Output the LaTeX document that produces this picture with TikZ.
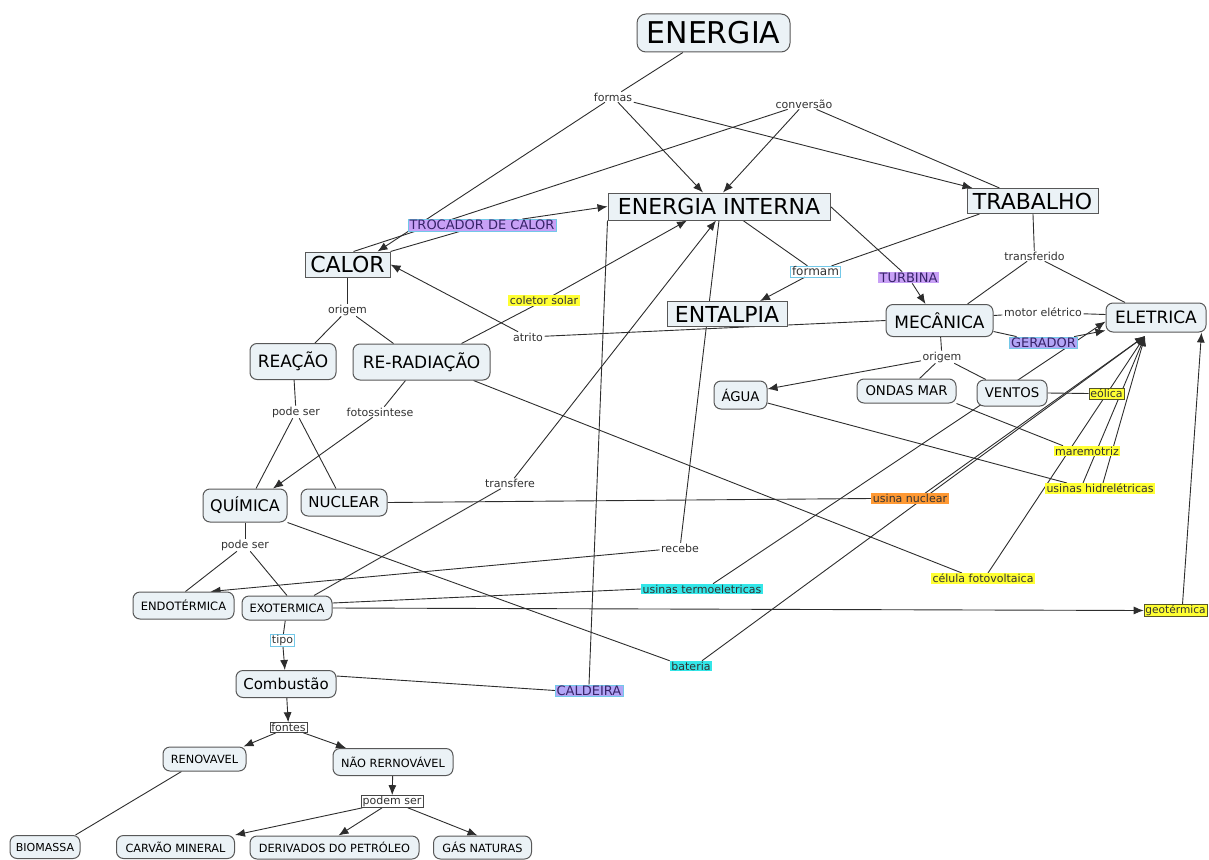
\documentclass[tikz,border=0pt]{standalone}
\usepackage{fontspec}
\setmainfont{DejaVu Sans}
\usetikzlibrary{arrows.meta,backgrounds}

\newcommand{\fsz}[1]{\fontsize{#1}{#1}\selectfont}

\definecolor{conceptfill}{RGB}{235,242,246}
\definecolor{conceptline}{RGB}{88,88,88}
\definecolor{edgegray}{RGB}{45,45,45}
\definecolor{linktext}{RGB}{50,50,50}
\definecolor{capstext}{RGB}{55,35,105}
\definecolor{hlyellow}{RGB}{255,255,51}
\definecolor{hlorange}{RGB}{255,153,51}
\definecolor{hlcyan}{RGB}{51,230,232}
\definecolor{hlpurple}{RGB}{200,160,246}
\definecolor{hlviolet}{RGB}{178,165,246}
\definecolor{blueline}{RGB}{115,200,232}
\definecolor{oliveline}{RGB}{85,85,40}
\definecolor{darkline}{RGB}{70,70,70}

\tikzstyle{concept} = [draw=conceptline, fill=conceptfill, rounded corners=7pt,
    inner sep=0pt, line width=1pt, text=black]
\tikzstyle{bigconcept} = [draw=conceptline, fill=conceptfill,
    inner sep=0pt, line width=1pt, text=black]
\tikzstyle{link} = [inner xsep=1.5pt, inner ysep=0.8pt, text=linktext, font=\fsz{11}]
\tikzstyle{capslink} = [link, font=\fsz{13}, text=capstext]
\tikzstyle{yellowlink} = [link, fill=hlyellow]
\tikzstyle{cyanlink} = [link, fill=hlcyan]
\tikzstyle{conn} = [draw=edgegray, line width=0.9pt]

\begin{document}
\begin{tikzpicture}[x=1pt, y=-1pt, >={Latex[length=10pt,width=8pt]}]
    \useasboundingbox (0,0) rectangle (1209,859);

    % We start by placing the concepts
    \node [concept, rounded corners=9pt, minimum width=153pt, minimum height=38pt,
        font=\fsz{30}] (energia) at (713.5,33) {ENERGIA};
    \node [bigconcept, minimum width=222pt, minimum height=27pt,
        font=\fsz{22}] (eint) at (719,206.5) {ENERGIA INTERNA};
    \node [bigconcept, minimum width=131pt, minimum height=25pt,
        font=\fsz{22}] (trabalho) at (1032.5,201) {TRABALHO};
    \node [bigconcept, minimum width=85pt, minimum height=25pt,
        font=\fsz{22}] (calor) at (347.5,264.5) {CALOR};
    \node [bigconcept, minimum width=120pt, minimum height=25pt,
        font=\fsz{22}] (entalpia) at (727,314) {ENTALPIA};
    \node [concept, minimum width=86pt, minimum height=36pt,
        font=\fsz{17}] (reacao) at (293,361.5) {REAÇÃO};
    \node [concept, minimum width=137pt, minimum height=36pt,
        font=\fsz{17}] (reradiacao) at (421.5,362) {RE-RADIAÇÃO};
    \node [concept, minimum width=107pt, minimum height=32pt,
        font=\fsz{17}] (mecanica) at (939.5,320.5) {MECÂNICA};
    \node [concept, minimum width=100pt, minimum height=29pt,
        font=\fsz{17}] (eletrica) at (1156,317.5) {ELETRICA};
    \node [concept, minimum width=53pt, minimum height=28pt,
        font=\fsz{13.3}] (agua) at (740.5,395) {ÁGUA};
    \node [concept, minimum width=99pt, minimum height=24pt,
        font=\fsz{13.3}] (ondas) at (906.5,391) {ONDAS MAR};
    \node [concept, minimum width=70pt, minimum height=26pt,
        font=\fsz{13.3}] (ventos) at (1012,393) {VENTOS};
    \node [concept, minimum width=84pt, minimum height=33pt,
        font=\fsz{16}] (quimica) at (245,505.5) {QUÍMICA};
    \node [concept, minimum width=86pt, minimum height=27pt,
        font=\fsz{15}] (nuclear) at (344,502.5) {NUCLEAR};
    \node [concept, minimum width=101pt, minimum height=27pt,
        font=\fsz{11.5}] (endo) at (183.5,605.5) {ENDOTÉRMICA};
    \node [concept, minimum width=90pt, minimum height=24pt,
        font=\fsz{11.5}] (exo) at (287,608) {EXOTERMICA};
    \node [concept, minimum width=100pt, minimum height=27pt,
        font=\fsz{15}] (combustao) at (286,684) {Combustão};
    \node [concept, minimum width=83pt, minimum height=24pt,
        font=\fsz{11.3}] (renovavel) at (204.5,759) {RENOVAVEL};
    \node [concept, minimum width=120pt, minimum height=27pt,
        font=\fsz{11.3}] (naorenov) at (393,762) {NÃO RERNOVÁVEL};
    \node [concept, minimum width=70pt, minimum height=23pt,
        font=\fsz{11}] (biomassa) at (45,847) {BIOMASSA};
    \node [concept, minimum width=118pt, minimum height=23pt,
        font=\fsz{11.3}] (carvao) at (175.5,847) {CARVÃO MINERAL};
    \node [concept, minimum width=169pt, minimum height=23pt,
        font=\fsz{11.3}] (derivados) at (334.5,847.5) {DERIVADOS DO PETRÓLEO};
    \node [concept, minimum width=98pt, minimum height=23pt,
        font=\fsz{11.3}] (gas) at (482.5,847.5) {GÁS NATURAS};

    % then the linking phrases
    \node [link] (formas) at (613,97) {formas};
    \node [link] (conversao) at (804,104) {conversão};
    \node [capslink, fill=hlpurple, draw=blueline] (trocador) at (482,225) {TROCADOR DE CALOR};
    \node [link, draw=blueline, font=\fsz{12}] (formam) at (815.5,271.5) {formam};
    \node [capslink, fill=hlpurple] (turbina) at (908.5,277.5) {TURBINA};
    \node [link] (transferido) at (1034.5,256) {transferido};
    \node [yellowlink] (coletor) at (544,300.5) {coletor solar};
    \node [link] (atrito) at (528,337) {atrito};
    \node [link] (origema) at (347.5,310) {origem};
    \node [link] (origemb) at (942,357) {origem};
    \node [link] (motor) at (1043,312.5) {motor elétrico};
    \node [capslink, fill=hlviolet, draw=blueline] (gerador) at (1043.5,342.5) {GERADOR};
    \node [yellowlink, draw=oliveline] (eolica) at (1106.5,393.5) {eólica};
    \node [yellowlink] (marem) at (1087,451) {maremotriz};
    \node [yellowlink] (hidro) at (1100,488.5) {usinas hidrelétricas};
    \node [link, fill=hlorange] (usinanuc) at (910,498.5) {usina nuclear};
    \node [link] (podesera) at (296,412) {pode ser};
    \node [link] (foto) at (380,412) {fotossintese};
    \node [link] (transfere) at (510,483.5) {transfere};
    \node [link] (podeserb) at (245,545) {pode ser};
    \node [link] (recebe) at (680,548) {recebe};
    \node [cyanlink] (termo) at (702,589) {usinas termoeletricas};
    \node [yellowlink] (celula) at (983,578.5) {célula fotovoltaica};
    \node [yellowlink, draw=oliveline, font=\fsz{10.6}] (geo) at (1175.5,610.5) {geotérmica};
    \node [link, draw=blueline] (tipo) at (282.5,640.5) {tipo};
    \node [cyanlink] (bateria) at (691,666) {bateria};
    \node [capslink, fill=hlviolet, draw=blueline] (caldeira) at (589,690.5) {CALDEIRA};
    \node [link, draw=darkline] (fontes) at (288.5,727.5) {fontes};
    \node [link, draw=darkline] (podem) at (392,801.5) {podem ser};

    % many arrows meet at one point under ELETRICA
    \coordinate (elin) at (1145,336);

    % Once the nodes are placed, connecting them is easy.
    \begin{scope}[on background layer]
    \draw [conn] (energia) -- (formas);
    \draw [conn,->] (formas) -- ([xshift=30pt]calor.north);
    \draw [conn,->] (formas) -- ([xshift=-16pt]eint.north);
    \draw [conn,->] (formas) -- ([xshift=6pt]trabalho.north west);
    \draw [conn] (conversao) -- ([xshift=6pt]calor.north);
    \draw [conn,->] (conversao) -- ([xshift=4pt]eint.north);
    \draw [conn] (conversao) -- ([xshift=33pt]trabalho.north west);
    \draw [conn] (calor.north east) -- (trocador);
    \draw [conn,->] (trocador) -- (eint.west);
    \draw [conn] ([xshift=24pt]eint.south) -- (formam);
    \draw [conn] ([xshift=13pt]trabalho.south west) -- (formam);
    \draw [conn,->] (formam) -- ([xshift=33pt]entalpia.north);
    \draw [conn] (eint.east) -- (turbina);
    \draw [conn,->] (turbina) -- ([xshift=-14pt]mecanica.north);
    \draw [conn] (trabalho) -- (transferido);
    \draw [conn] (transferido) -- ([xshift=28pt]mecanica.north);
    \draw [conn] (transferido) -- ([xshift=-31pt]eletrica.north);
    \draw [conn] ([yshift=5pt]mecanica.east) -- (motor);
    \draw [conn] (motor) -- ([yshift=3pt]eletrica.west);
    \draw [conn] ([yshift=-11pt]mecanica.east) -- (gerador);
    \draw [conn,->] (gerador) -- ([yshift=-13pt]eletrica.west);
    \draw [conn,->] ([xshift=11pt]termo.north) -- ([yshift=-4pt]eletrica.west);
    \draw [conn] (mecanica) -- (origemb);
    \draw [conn,->] (origemb) -- ([yshift=6pt]agua.east);
    \draw [conn] (origemb) -- (ondas);
    \draw [conn] (origemb) -- (ventos);
    \draw [conn] (mecanica.west) -- (atrito);
    \draw [conn,->] (atrito) -- (calor.east);
    \draw [conn] (calor) -- (origema);
    \draw [conn] (origema) -- ([xshift=22pt]reacao.north);
    \draw [conn] (origema) -- ([xshift=-28pt]reradiacao.north);
    \draw [conn] ([xshift=40pt]reradiacao.north) -- (coletor);
    \draw [conn,->] (coletor) -- ([xshift=-32pt]eint.south);
    \draw [conn] (reacao) -- (podesera);
    \draw [conn] (podesera) -- ([xshift=11pt]quimica.north);
    \draw [conn] (podesera) -- ([xshift=-8pt]nuclear.north);
    \draw [conn] ([xshift=-16pt]reradiacao.south) -- (foto);
    \draw [conn,->] (foto) -- ([xshift=28pt]quimica.north);
    \draw [conn] ([xshift=52pt]reradiacao.south) -- ([xshift=-21pt]celula.north);
    \draw [conn] (nuclear.east) -- (usinanuc.west);
    \draw [conn] (quimica.south east) -- (bateria.north west);
    \draw [conn] (quimica) -- (podeserb);
    \draw [conn] (podeserb) -- ([xshift=2pt]endo.north);
    \draw [conn] (podeserb) -- (exo.north);
    \draw [conn] ([xshift=27pt]exo.north) -- (transfere);
    \draw [conn,->] (transfere) -- ([xshift=-3pt]eint.south);
    \draw [conn] (eint.south west) -- (caldeira.north);
    \draw [conn] ([yshift=8pt]combustao.east) -- (caldeira.west);
    \draw [conn] (eint.south) -- (recebe);
    \draw [conn,->] (recebe) -- ([xshift=27pt]endo.north);
    \draw [conn] ([yshift=5pt]exo.east) -- (termo.west);
    \draw [conn,->] (exo.east) -- (geo.west);
    \draw [conn,->] ([xshift=7pt]geo.north) -- ([xshift=-5pt]eletrica.south east);
    \draw [conn] (exo) -- (tipo);
    \draw [conn,->] (tipo) -- (combustao);
    \draw [conn,->] (combustao) -- (fontes);
    \draw [conn,->] (fontes) -- ([xshift=-3pt]renovavel.north east);
    \draw [conn,->] (fontes) -- ([xshift=-47pt]naorenov.north);
    \draw [conn] ([xshift=-23pt]renovavel.south) -- ([xshift=-5pt]biomassa.north east);
    \draw [conn,->] (naorenov) -- (podem);
    \draw [conn,->] (podem) -- (carvao.north east);
    \draw [conn,->] (podem) -- ([xshift=4pt]derivados.north);
    \draw [conn,->] (podem) -- ([xshift=-5pt]gas.north);
    \draw [conn] ([yshift=-8pt]agua.east) -- ([xshift=-33pt]hidro.north);
    \draw [conn] (ondas.south east) -- ([xshift=-24pt]marem.north);
    \draw [conn] (ventos.east) -- (eolica.west);
    \draw [conn,->] ([xshift=15pt]usinanuc.north) -- (elin);
    \draw [conn,->] ([xshift=11pt]bateria.north) -- (elin);
    \draw [conn,->] ([xshift=5pt]celula.north) -- (elin);
    \draw [conn,->] ([xshift=-17pt]hidro.north) -- (elin);
    \draw [conn,->] ([xshift=3pt]hidro.north) -- (elin);
    \end{scope}
\end{tikzpicture}
\end{document}
